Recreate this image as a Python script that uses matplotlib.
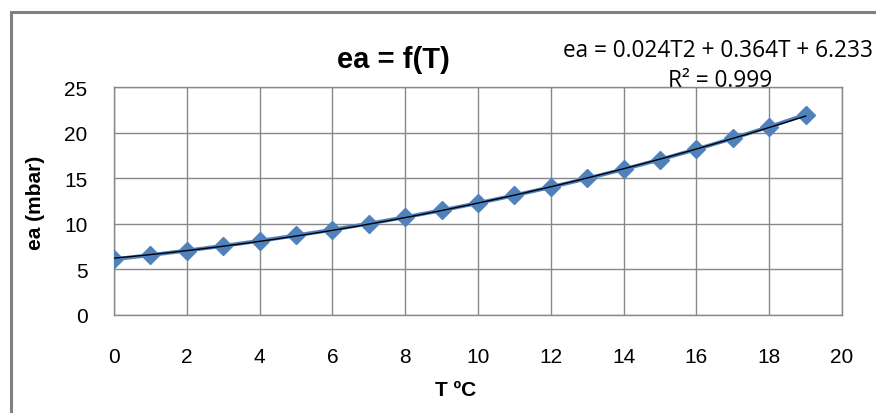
import numpy as np
import matplotlib
matplotlib.use("Agg")
import matplotlib.pyplot as plt
from matplotlib.patches import Rectangle

# Saturation vapour pressure vs temperature
temps = [0, 1, 2, 3, 4, 5, 6, 7, 8, 9, 10, 11, 12, 13, 14, 15, 16, 17, 18, 19]
ea_values = [6.11, 6.57, 7.06, 7.58, 8.13, 8.72, 9.35, 10.02, 10.72, 11.48,
             12.27, 13.12, 14.02, 14.97, 15.98, 17.04, 18.17, 19.37, 20.63, 21.96]

# Polynomial trendline coefficients (a*T^2 + b*T + c) and fit quality
trend_coeffs = [0.024, 0.364, 6.233]
r_squared = 0.999

x_ticks = list(range(0, 21, 2))
y_ticks = list(range(0, 26, 5))

W, H = 876, 414
fig = plt.figure(figsize=(W / 100, H / 100), dpi=100)
fig.patch.set_facecolor("white")

# outer chart frame (runs off the right and bottom edges)
fig.add_artist(Rectangle((11 / W, -0.05), 1.2, (H - 13) / H + 0.05,
                         transform=fig.transFigure, fill=False,
                         edgecolor="#808080", linewidth=2.2, clip_on=False))

ax = fig.add_axes([114 / W, (H - 316) / H, (842 - 114) / W, (316 - 88) / H])
ax.set_facecolor("white")

sans = ["Liberation Sans", "DejaVu Sans"]

ax.plot(temps, ea_values, color="#4F81BD", linewidth=2.8, marker="D",
        markersize=9.5, markeredgecolor="#4F81BD", zorder=3)

t_fit = np.linspace(temps[0], temps[-1], 200)
ax.plot(t_fit, np.polyval(trend_coeffs, t_fit), color="black", linewidth=1.0, zorder=4)

ax.set_xlim(0, 20)
ax.set_ylim(0, 25)
ax.set_xticks(x_ticks)
ax.set_yticks(y_ticks)
ax.grid(True, color="#888888", linewidth=1.0)
ax.set_axisbelow(True)
for side in ax.spines.values():
    side.set_color("#888888")
    side.set_linewidth(1.0)
ax.tick_params(length=0)
ax.tick_params(axis="y", pad=19)
ax.tick_params(axis="x", pad=23)
for lbl in ax.get_xticklabels() + ax.get_yticklabels():
    lbl.set_fontfamily(sans)
    lbl.set_fontsize(15)

ax.set_xlabel("T \u00baC", fontsize=15, fontweight="bold", family=sans)
ax.xaxis.set_label_coords((456 - 114) / (842 - 114), -(391 - 316) / (316 - 88))
ax.xaxis.label.set_va("center")
ax.set_ylabel("ea (mbar)", fontsize=15, fontweight="bold", family=sans)
ax.yaxis.set_label_coords(-(114 - 35) / (842 - 114), (316 - 203) / (316 - 88))
ax.yaxis.label.set_va("center")

fig.text(393 / W, 1 - 60 / H, "ea = f(T)", ha="center", va="center",
         fontsize=21, fontweight="bold", family=sans)

# trendline label sits behind the white plot area, as the chart draws it
a, b, c = trend_coeffs
eq_font = ["Open Sans", "DejaVu Sans"]
fig.text(718 / W, 1 - 51 / H, f"ea = {a:.3f}T2 + {b:.3f}T + {c:.3f}",
         ha="center", va="center", fontsize=16.3, family=eq_font, zorder=-1)
fig.text(720 / W, 1 - 81 / H, f"R\u00b2 = {r_squared:.3f}",
         ha="center", va="center", fontsize=16.3, family=eq_font, zorder=-1)

fig.savefig("out.png", dpi=100)
